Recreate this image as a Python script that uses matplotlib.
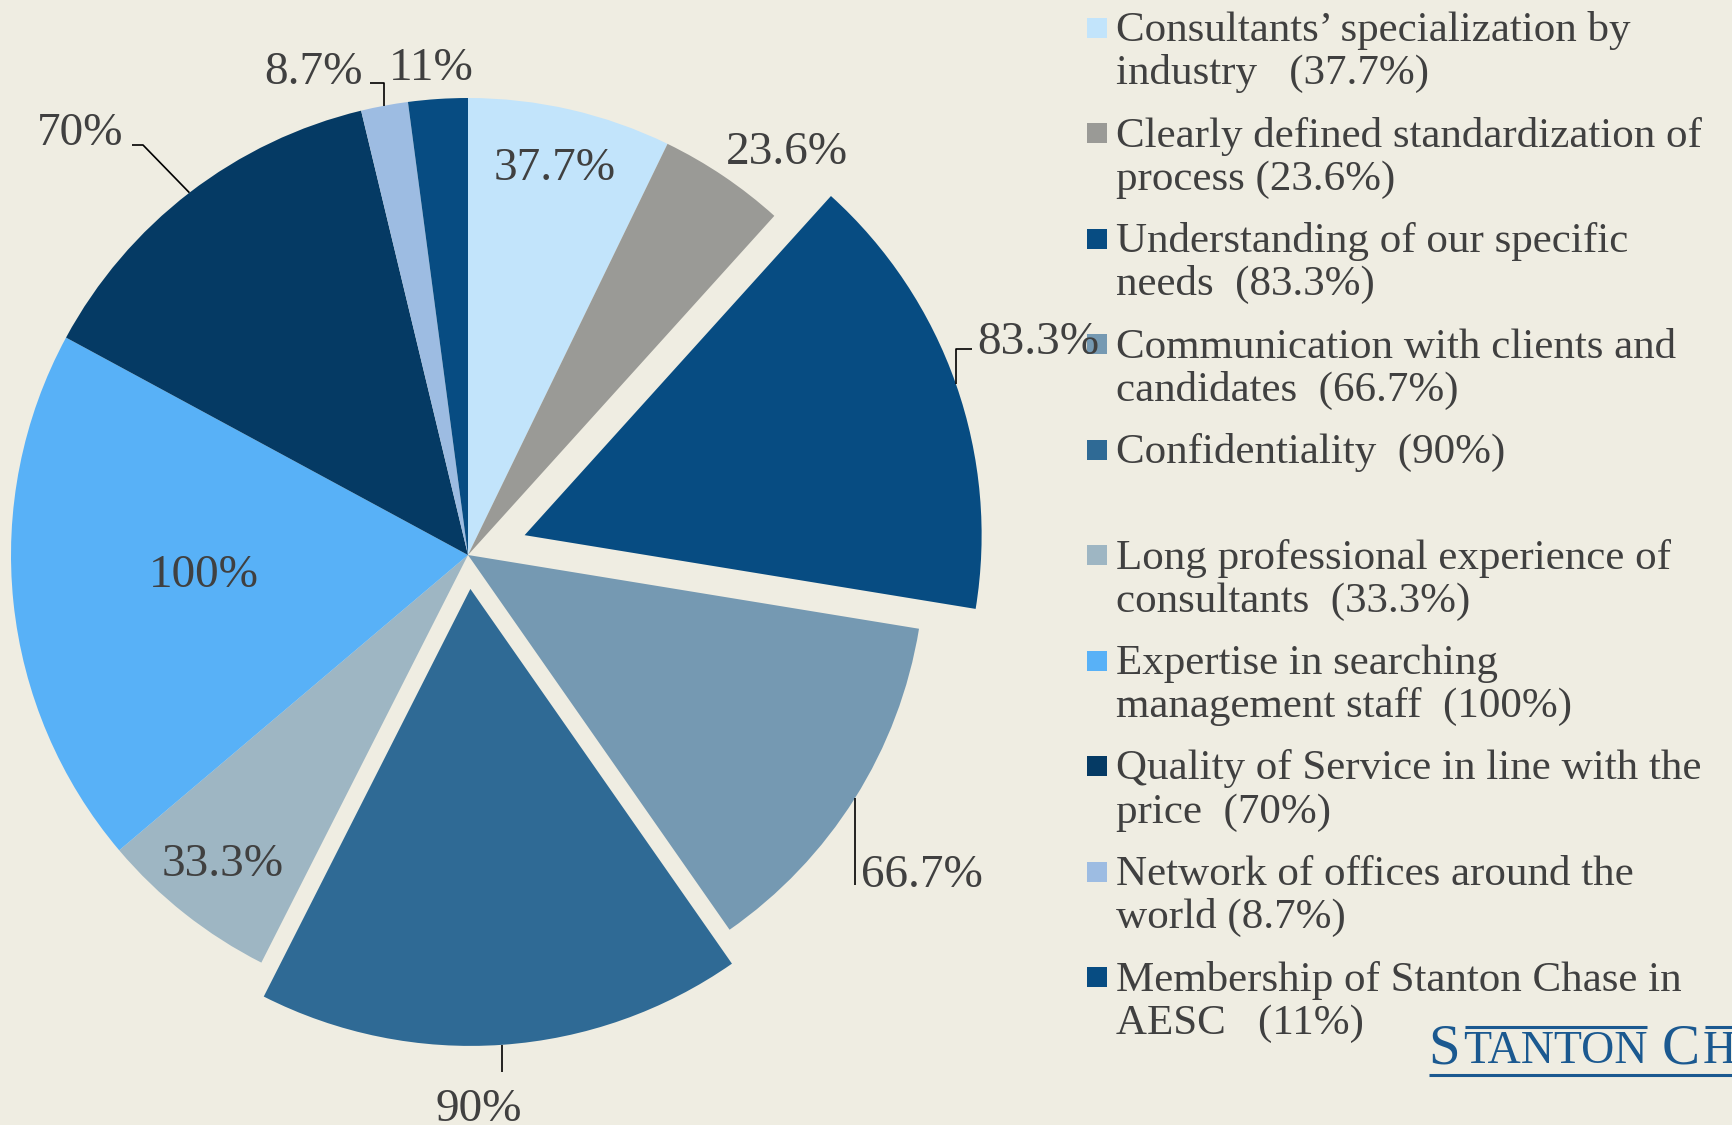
import matplotlib
matplotlib.use("Agg")
import matplotlib.pyplot as plt
import numpy as np
from matplotlib.patches import Rectangle

# ---------------- data ----------------
categories = [
    "Consultants’ specialization by industry",
    "Clearly defined standardization of process",
    "Understanding of our specific needs",
    "Communication with clients and candidates",
    "Confidentiality",
    "Long professional experience of consultants",
    "Expertise in searching management staff",
    "Quality of Service in line with the price",
    "Network of offices around the world",
    "Membership of Stanton Chase in AESC",
]
values = [37.7, 23.6, 83.3, 66.7, 90, 33.3, 100, 70, 8.7, 11]
legend_labels = [
    "Consultants’ specialization by\nindustry   (37.7%)",
    "Clearly defined standardization of\nprocess (23.6%)",
    "Understanding of our specific\nneeds  (83.3%)",
    "Communication with clients and\ncandidates  (66.7%)",
    "Confidentiality  (90%)",
    "Long professional experience of\nconsultants  (33.3%)",
    "Expertise in searching\nmanagement staff  (100%)",
    "Quality of Service in line with the\nprice  (70%)",
    "Network of offices around the\nworld (8.7%)",
    "Membership of Stanton Chase in\nAESC   (11%)",
]
colors = ["#C2E4FB", "#9A9A96", "#074C82", "#7599B2", "#2F6A95",
          "#9EB6C3", "#58B1F7", "#053A64", "#9DBCE2", "#074C82"]

# ---------------- style / layout ----------------
W, H = 1732, 1125
BG = "#EFEDE2"
TXT = "#404040"
LOGO = "#1B5990"
FONT = "Liberation Serif"
explode = [0, 0, 60, 0, 34, 0, 0, 0, 0, 0]   # offsets in pixels
center_px = (468, 555)
radius_px = 457

# label placement: (x, baseline y (screen px), ha, leader waypoints in screen px)
label_specs = [
    (555, 180, "center", None),
    (787, 164, "center", None),
    (977, 354, "left", [(957, 349), (972, 349)]),
    (861, 887, "left", [(857, 885)]),
    (479, 1121, "center", [(502, 1072)]),
    (223, 876, "center", None),
    (204, 587, "center", None),
    (123, 145, "right", [(143, 145), (132, 145)]),
    (363, 84, "right", [(383, 83), (370, 83)]),
    (431, 80, "center", None),
]

fig = plt.figure(figsize=(W / 100, H / 100), dpi=100, facecolor=BG)
ax = fig.add_axes([0, 0, 1, 1])
ax.set_facecolor(BG)

wedges, _ = ax.pie(values, colors=colors, startangle=90, counterclock=False,
                   center=(center_px[0], H - center_px[1]), radius=radius_px,
                   explode=explode, wedgeprops=dict(linewidth=0))
ax.set_xlim(0, W)
ax.set_ylim(0, H)
ax.set_aspect("equal")
ax.axis("off")


def edge_point(w):
    th = np.deg2rad((w.theta1 + w.theta2) / 2.0)
    cx, cy = w.center
    return cx + w.r * np.cos(th), cy + w.r * np.sin(th)


for w, v, (lx, ly, ha, path) in zip(wedges, values, label_specs):
    ax.text(lx, H - ly, f"{v:g}%", ha=ha, va="baseline", fontsize=34,
            family=FONT, color=TXT)
    if path:
        ex, ey = edge_point(w)
        xs = [ex] + [p[0] for p in path]
        ys = [ey] + [H - p[1] for p in path]
        if abs(xs[1] - xs[0]) < 4:
            xs[1] = xs[0]
        ax.plot(xs, ys, color="black", lw=1.2, solid_capstyle="butt")

# ---------------- legend ----------------
for i, (lab, c) in enumerate(zip(legend_labels, colors)):
    base = 41 + i * 105.5
    ax.add_patch(Rectangle((1087, H - (base - 3.5)), 20, 20, facecolor=c,
                           edgecolor="none"))
    for j, line in enumerate(lab.split("\n")):
        ax.text(1116, H - (base + j * 43), line, ha="left", va="baseline",
                fontsize=31, family=FONT, color=TXT)

# ---------------- logo ----------------
renderer = fig.canvas.get_renderer()
pieces = [("S", 41), ("TANTON", 33), (" ", 33), ("C", 41), ("HASE", 33)]
x = 1428
ends = []
for s, size in pieces:
    t = ax.text(x, H - 1063, s, ha="left", va="baseline", fontsize=size,
                family=FONT, color=LOGO)
    bb = t.get_window_extent(renderer)
    ends.append((x, x + bb.width))
    x += bb.width + (3 if s != " " else 0)
ax.plot([ends[1][0] + 2, ends[1][1]], [H - 1027, H - 1027], color=LOGO, lw=2.2,
        solid_capstyle="butt")
ax.plot([ends[4][0] + 2, W], [H - 1027, H - 1027], color=LOGO, lw=2.2,
        solid_capstyle="butt")
ax.plot([1429, W], [H - 1075, H - 1075], color=LOGO, lw=2.2, solid_capstyle="butt")

fig.savefig("out.png", dpi=100, facecolor=BG)
